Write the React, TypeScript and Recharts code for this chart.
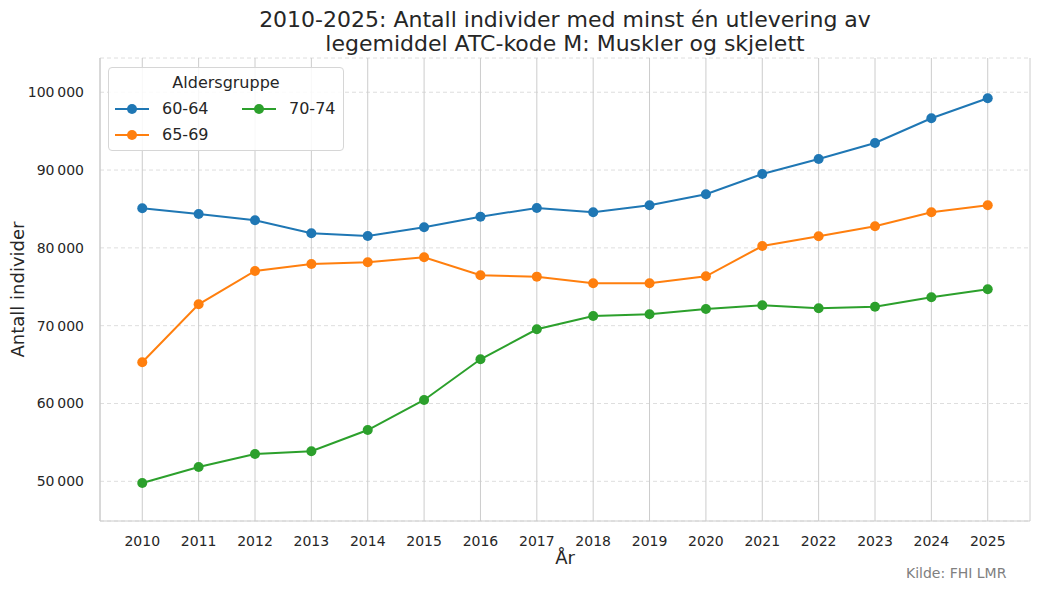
import React from "react";
import { LineChart, Line, XAxis, YAxis, CartesianGrid } from "recharts";

const years = [2010, 2011, 2012, 2013, 2014, 2015, 2016, 2017, 2018, 2019, 2020, 2021, 2022, 2023, 2024, 2025];
const g6064 = [85100, 84360, 83550, 81880, 81530, 82650, 84010, 85130, 84580, 85480, 86890, 89500, 91430, 93480, 96660, 99230];
const g6569 = [65300, 72750, 77030, 77930, 78150, 78790, 76480, 76300, 75450, 75450, 76350, 80240, 81490, 82780, 84580, 85480];
const g7074 = [49780, 51840, 53510, 53860, 56590, 60450, 65680, 69540, 71250, 71470, 72150, 72620, 72240, 72440, 73650, 74680];
const yTicks = [50000, 60000, 70000, 80000, 90000, 100000];

const seriesNames = ["60-64", "65-69", "70-74"];
const colors = ["#1f77b4", "#ff7f0e", "#2ca02c"];

const data = years.map((y, i) => ({ year: y, "60-64": g6064[i], "65-69": g6569[i], "70-74": g7074[i] }));

const FONT = "'DejaVu Sans', sans-serif";
const TXT = "#262626";

const fmt = (v: number) => {
  const s = String(Math.round(v));
  return s.replace(/\B(?=(\d{3})+(?!\d))/g, "\u2009");
};

const Marker = ({ color }: { color: string }) => (
  <svg width={34} height={12} style={{ display: "block" }}>
    <line x1={0} y1={6} x2={34} y2={6} stroke={color} strokeWidth={2} />
    <circle cx={17} cy={6} r={5} fill={color} />
  </svg>
);

const LegendBox = () => (
  <div
    style={{
      position: "absolute",
      left: 108,
      top: 67,
      width: 236,
      height: 84,
      border: "1px solid #d6d6d6",
      borderRadius: 4,
      background: "rgba(255,255,255,0.85)",
      fontFamily: FONT,
      color: TXT,
      boxSizing: "border-box",
    }}
  >
    <div style={{ position: "absolute", top: 5, left: 0, width: "100%", textAlign: "center", fontSize: 16 }}>
      Aldersgruppe
    </div>
    {[
      { i: 0, x: 6, y: 41 },
      { i: 1, x: 6, y: 67 },
      { i: 2, x: 133, y: 41 },
    ].map(({ i, x, y }) => (
      <div key={i} style={{ position: "absolute", left: x, top: y - 6, display: "flex", alignItems: "center" }}>
        <Marker color={colors[i]} />
        <span style={{ marginLeft: 13, fontSize: 16, lineHeight: "12px" }}>{seriesNames[i]}</span>
      </div>
    ))}
  </div>
);

export default function App() {
  return (
    <div style={{ position: "absolute", left: 0, top: 0, width: 1039, height: 591, background: "#fff" }}>
      <LineChart
        width={1039}
        height={591}
        data={data}
        margin={{ top: 58, right: 9, bottom: 40, left: 0 }}
        style={{ fontFamily: FONT }}
      >
        <CartesianGrid vertical={false} stroke="#dedede" strokeDasharray="4 3" />
        <CartesianGrid horizontal={false} stroke="#cccccc" />
        <XAxis
          dataKey="year"
          type="number"
          domain={[2009.25, 2025.75]}
          ticks={years}
          interval={0}
          height={30}
          tickLine={false}
          tickMargin={9}
          axisLine={{ stroke: "#cccccc" }}
          tick={{ fill: TXT, fontSize: 14, fontFamily: FONT }}
          label={{ value: "År", position: "insideBottom", offset: -13, fill: TXT, fontSize: 18, fontFamily: FONT }}
        />
        <YAxis
          type="number"
          domain={[44900, 104400]}
          ticks={yTicks}
          width={100}
          tickLine={false}
          tickMargin={10}
          axisLine={{ stroke: "#cccccc" }}
          tickFormatter={fmt}
          tick={{ fill: TXT, fontSize: 14, fontFamily: FONT }}
          label={{
            value: "Antall individer",
            angle: -90,
            position: "insideLeft",
            offset: 18,
            style: { textAnchor: "middle" },
            fill: TXT,
            fontSize: 18,
            fontFamily: FONT,
          }}
        />
        {seriesNames.map((n, i) => (
          <Line
            key={n}
            dataKey={n}
            name={n}
            stroke={colors[i]}
            strokeWidth={2}
            dot={{ r: 5, fill: colors[i], stroke: colors[i], strokeWidth: 0 }}
            activeDot={false}
            isAnimationActive={false}
          />
        ))}
      </LineChart>
      <div
        style={{
          position: "absolute",
          left: 100,
          width: 930,
          top: 8,
          textAlign: "center",
          fontFamily: FONT,
          fontSize: 22,
          lineHeight: "24px",
          color: TXT,
        }}
      >
        2010-2025: Antall individer med minst én utlevering av
        <br />
        legemiddel ATC-kode M: Muskler og skjelett
      </div>
      <LegendBox />
      <div
        style={{
          position: "absolute",
          left: 906,
          top: 565,
          fontFamily: FONT,
          fontSize: 14,
          color: "#808080",
          whiteSpace: "nowrap",
        }}
      >
        Kilde: FHI LMR
      </div>
    </div>
  );
}
